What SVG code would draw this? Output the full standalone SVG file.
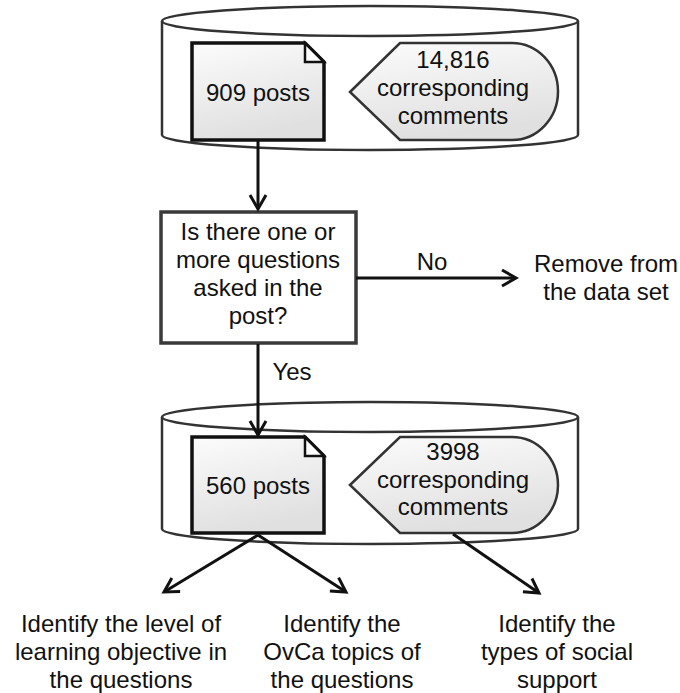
<svg xmlns="http://www.w3.org/2000/svg" width="680" height="693" viewBox="0 0 680 693">
<defs>
<linearGradient id="g" x1="0" y1="0" x2="0.3" y2="1">
<stop offset="0" stop-color="#fcfcfc"/>
<stop offset="1" stop-color="#e0e0e0"/>
</linearGradient>
<marker id="arr" markerUnits="userSpaceOnUse" markerWidth="22" markerHeight="22" viewBox="0 0 22 22" refX="17" refY="11" orient="auto">
<path d="M3,3 L17,11 L3,19" fill="none" stroke="#111" stroke-width="3" stroke-linejoin="miter"/>
</marker>
</defs>
<style>
.cyl{fill:#fff;stroke:#333;stroke-width:2.5}
.doc{fill:url(#g);stroke:#111;stroke-width:3.5;stroke-linejoin:miter}
.fold{fill:#fff;stroke:#111;stroke-width:2.5}
.call{fill:url(#g);stroke:#333;stroke-width:2.5}
.box{fill:#fff;stroke:#3a3a3a;stroke-width:3.5}
.t{font-family:"Liberation Sans",Arial,sans-serif;font-size:24px;fill:#111;text-anchor:middle}
.c{fill:none;stroke:#111;stroke-width:3}
</style>
<g id="db1">
<path class="cyl" d="M162,21 V135 A208,15 0 0 0 578,135 V21"/>
<ellipse class="cyl" cx="370" cy="21" rx="208" ry="15"/>
</g>
<g id="posts909">
<path class="doc" d="M192,43 H305 L324,62 V140 H192 Z"/>
<path class="fold" d="M305,43 V62 H324 Z"/>
<text class="t" x="258" y="101">909 posts</text>
</g>
<g id="comments14816">
<path class="call" d="M350,92 L400,43 H512 A46,48.5 0 0 1 512,140 H400 Z"/>
<text class="t" x="453" y="68">14,816</text>
<text class="t" x="453" y="96">corresponding</text>
<text class="t" x="453" y="124">comments</text>
</g>
<g id="decision">
<rect class="box" x="161" y="212" width="195" height="131"/>
<text class="t" x="258" y="240">Is there one or</text>
<text class="t" x="258" y="268">more questions</text>
<text class="t" x="258" y="296">asked in the</text>
<text class="t" x="258" y="324">post?</text>
</g>
<g id="remove">
<text class="t" x="606" y="272">Remove from</text>
<text class="t" x="606" y="300">the data set</text>
</g>
<g id="db2">
<path class="cyl" d="M162,417 V529 A208,15 0 0 0 578,529 V417"/>
<ellipse class="cyl" cx="370" cy="417" rx="208" ry="15"/>
</g>
<g id="posts560">
<path class="doc" d="M192,437 H305 L324,456 V533 H192 Z"/>
<path class="fold" d="M305,437 V456 H324 Z"/>
<text class="t" x="258" y="494">560 posts</text>
</g>
<g id="comments3998">
<path class="call" d="M350,485 L400,437 H512 A46,48 0 0 1 512,533 H400 Z"/>
<text class="t" x="453" y="460">3998</text>
<text class="t" x="453" y="488">corresponding</text>
<text class="t" x="453" y="515">comments</text>
</g>
<g id="out1">
<text class="t" x="121" y="632">Identify the level of</text>
<text class="t" x="121" y="660">learning objective in</text>
<text class="t" x="121" y="688">the questions</text>
</g>
<g id="out2">
<text class="t" x="342" y="632">Identify the</text>
<text class="t" x="342" y="660">OvCa topics of</text>
<text class="t" x="342" y="688">the questions</text>
</g>
<g id="out3">
<text class="t" x="557" y="632">Identify the</text>
<text class="t" x="557" y="660">types of social</text>
<text class="t" x="557" y="688">support</text>
</g>
<g id="connectors">
<path class="c" d="M258,141 V209" marker-end="url(#arr)"/>
<path class="c" d="M356,278 H516" marker-end="url(#arr)"/>
<path class="c" d="M258,344 V435" marker-end="url(#arr)"/>
<path class="c" d="M258,535 L164,592" marker-end="url(#arr)"/>
<path class="c" d="M258,535 L346,592" marker-end="url(#arr)"/>
<path class="c" d="M453,534 L539,593" marker-end="url(#arr)"/>
<text class="t" x="432" y="270">No</text>
<text class="t" x="292" y="380">Yes</text>
</g>
</svg>
